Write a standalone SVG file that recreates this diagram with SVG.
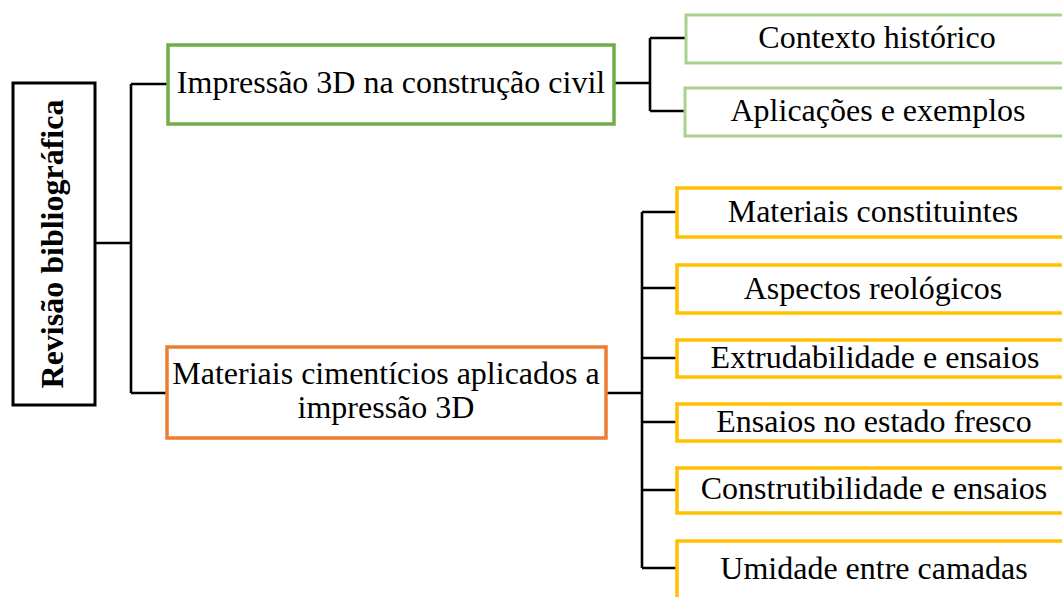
<svg xmlns="http://www.w3.org/2000/svg" width="1062" height="597" viewBox="0 0 1062 597">
<style>
text{font-family:"Liberation Serif","Times New Roman",serif;font-size:32px;fill:#000;text-anchor:middle}
.b{font-weight:bold}
rect{fill:#fff}
.root{stroke:#000;stroke-width:3}
.g{stroke:#70AD47;stroke-width:3.5}
.lg{stroke:#A9D18E;stroke-width:3}
.o{stroke:#ED7D31;stroke-width:3.5}
.y{stroke:#FFC000;stroke-width:3.5}
.conn path{fill:none;stroke:#000;stroke-width:2.6}
</style>
<rect width="1062" height="597" fill="#fff"/>
<g class="conn" id="connectors">
<path d="M95,243 H131 M131,84 V393 M131,84 H168 M131,393 H167"/>
<path d="M614,83 H650 M650,38 V111 M650,38 H686 M650,111 H685"/>
<path d="M606,393 H642 M642,212 V568 M642,212 H677 M642,288 H677 M642,358 H677 M642,422 H677 M642,490 H677 M642,568 H677"/>
</g>
<g id="root">
<rect class="root" x="13" y="83" width="82" height="322"/>
<text class="b" transform="translate(63,244) rotate(-90)">Revisão bibliográfica</text>
</g>
<g id="impressao">
<rect class="g" x="168" y="45" width="446" height="79"/>
<text x="391" y="93">Impressão 3D na construção civil</text>
</g>
<g id="contexto">
<rect class="lg" x="686" y="15" width="384" height="48"/>
<text x="877" y="48">Contexto histórico</text>
</g>
<g id="aplicacoes">
<rect class="lg" x="685" y="88" width="388" height="48"/>
<text x="878" y="121">Aplicações e exemplos</text>
</g>
<g id="materiais-cim">
<rect class="o" x="167" y="347" width="439" height="91"/>
<text x="386" y="384">Materiais cimentícios aplicados a</text>
<text x="386" y="418">impressão 3D</text>
</g>
<g id="constituintes">
<rect class="y" x="677" y="188" width="394" height="49"/>
<text x="873" y="222">Materiais constituintes</text>
</g>
<g id="reologicos">
<rect class="y" x="677" y="265" width="394" height="48"/>
<text x="873" y="299">Aspectos reológicos</text>
</g>
<g id="extrudabilidade">
<rect class="y" x="677" y="340" width="394" height="37"/>
<text x="875" y="368">Extrudabilidade e ensaios</text>
</g>
<g id="fresco">
<rect class="y" x="677" y="404" width="394" height="37"/>
<text x="874" y="432">Ensaios no estado fresco</text>
</g>
<g id="construtibilidade">
<rect class="y" x="677" y="468" width="394" height="45"/>
<text x="874" y="499">Construtibilidade e ensaios</text>
</g>
<g id="umidade">
<rect class="y" x="677" y="541" width="394" height="80"/>
<text x="874" y="579">Umidade entre camadas</text>
</g>
</svg>
